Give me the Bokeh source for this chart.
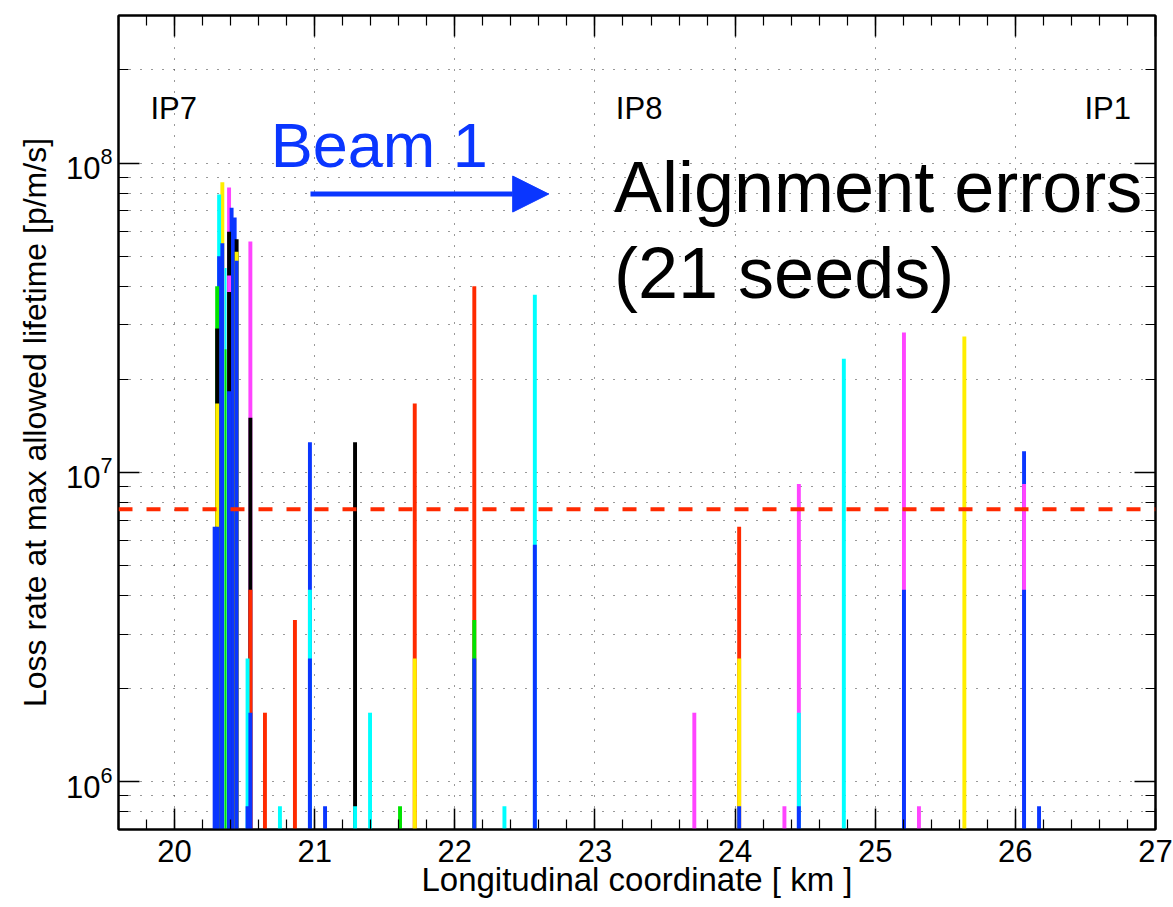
from bokeh.plotting import figure
from bokeh.models import (Range1d, Span, Label, Arrow, NormalHead, ColumnDataSource,
                          FixedTicker, SingleIntervalTicker, LinearAxis, LogAxis,
                          CustomLabelingPolicy)
from bokeh.embed import file_html
from bokeh.resources import INLINE

# ---- data ----
BLUE = "#0a36ff"; RED = "#ff2a00"; GREEN = "#00e400"; CYAN = "#00ffff"
MAGENTA = "#ff44ff"; YELLOW = "#ffee00"; BLACK = "#000000"

bar_km = [20.286, 20.304, 20.304, 20.304, 20.304, 20.318, 20.318, 20.341, 20.341,
          20.364, 20.364, 20.389, 20.389, 20.389, 20.389, 20.389, 20.407, 20.429,
          20.443, 20.443, 20.443, 20.521, 20.521, 20.541, 20.541, 20.541, 20.541,
          20.645, 20.752, 20.859, 20.966, 20.966, 20.966, 21.074, 21.288, 21.288,
          21.395, 21.609, 21.714, 21.714, 22.139, 22.139, 22.139, 22.354, 22.571,
          22.571, 23.709, 24.029, 24.029, 24.029, 24.352, 24.455, 24.455, 24.455,
          24.776, 25.205, 25.205, 25.312, 25.636, 26.062, 26.062, 26.062, 26.169]
bar_loss = [6.67e6, 4.0e7, 2.92e7, 1.67e7, 6.67e6, 7.92e7, 5.0e7, 8.67e7, 5.5e7,
            4.58e7, 2.5e7, 8.33e7, 6.0e7, 4.33e7, 3.83e7, 1.83e7, 7.17e7, 6.67e7,
            5.67e7, 5.17e7, 4.83e7, 2.5e6, 8.33e5, 5.58e7, 1.5e7, 4.17e6, 1.67e6,
            1.67e6, 8.33e5, 3.33e6, 1.25e7, 4.17e6, 2.5e6, 8.33e5, 1.25e7, 8.33e5,
            1.67e6, 8.33e5, 1.67e7, 2.5e6, 4.0e7, 3.33e6, 2.5e6, 8.33e5, 3.75e7,
            5.83e6, 1.67e6, 6.67e6, 2.5e6, 8.33e5, 8.33e5, 9.17e6, 1.67e6, 8.33e5,
            2.33e7, 2.83e7, 4.17e6, 8.33e5, 2.75e7, 1.17e7, 9.17e6, 4.17e6, 8.33e5]
bar_color = [BLUE, GREEN, BLACK, YELLOW, BLUE, CYAN, BLUE, YELLOW, BLUE,
             CYAN, GREEN, MAGENTA, BLACK, MAGENTA, BLACK, BLUE, BLUE, BLUE,
             BLACK, YELLOW, BLUE, CYAN, BLUE, MAGENTA, BLACK, RED, BLUE,
             RED, CYAN, RED, BLUE, CYAN, BLUE, BLUE, BLACK, CYAN,
             CYAN, GREEN, RED, YELLOW, RED, GREEN, BLUE, CYAN, CYAN,
             BLUE, MAGENTA, RED, YELLOW, BLUE, MAGENTA, MAGENTA, CYAN, BLUE,
             CYAN, MAGENTA, BLUE, MAGENTA, YELLOW, BLUE, MAGENTA, BLUE, BLUE]

threshold = 7.6e6
ip_names = ["IP7", "IP8", "IP1"]
ip_km = [19.994, 23.315, 26.659]
x_ticks = [20, 21, 22, 23, 24, 25, 26, 27]
y_ticks = [1e6, 1e7, 1e8]

X_LO, X_HI = 19.6, 27.0
Y_LO, Y_HI = 7e5, 3e8

BAR_W = 0.028
THIN_AT = 20.364   # the seed squeezed between two blue columns shows as a thin line

# draw tallest first so shorter seeds overlay them
order = sorted(range(len(bar_km)), key=lambda i: -bar_loss[i])
src = ColumnDataSource(dict(
    x=[bar_km[i] for i in order],
    top=[bar_loss[i] for i in order],
    color=[bar_color[i] for i in order],
    w=[BAR_W / 2 if bar_km[i] == THIN_AT else BAR_W for i in order],
))

FONT = "Liberation Sans"

p = figure(width=1173, height=907, x_range=Range1d(X_LO, X_HI),
           y_range=Range1d(Y_LO, Y_HI), y_axis_type="log",
           output_backend="svg", toolbar_location=None,
           min_border_left=118, min_border_right=18, min_border_top=15,
           min_border_bottom=78)
p.background_fill_color = "white"
p.border_fill_color = "white"
p.outline_line_color = "black"
p.outline_line_width = 2

p.vbar(x="x", top="top", bottom=Y_LO, width="w", fill_color="color",
       line_color=None, source=src)

p.add_layout(Span(location=threshold, dimension="width", line_color=RED,
                  line_dash="14 14", line_width=4))

minor_y = [m * 10.0 ** e for e in range(5, 9) for m in range(2, 10)]
xt = SingleIntervalTicker(interval=1, num_minor_ticks=5)
yt = FixedTicker(ticks=y_ticks, minor_ticks=minor_y)

no_labels = CustomLabelingPolicy(code="""
    for (const i of Array.from(indices)) { indices.unset(i) }
    return indices
""")

def style_axis(ax, labels=True):
    ax.axis_line_width = 2
    ax.axis_line_color = "black"
    ax.major_tick_in = 21
    ax.major_tick_out = 0
    ax.minor_tick_in = 10
    ax.minor_tick_out = 0
    ax.major_tick_line_width = 1.5
    ax.minor_tick_line_width = 1.2
    ax.major_tick_line_color = "black"
    ax.minor_tick_line_color = "black"
    ax.major_label_text_font = FONT
    ax.major_label_text_color = "black"
    if labels:
        ax.major_label_text_font_size = "31px"
    else:
        ax.major_label_text_font_size = "1px"
        ax.major_label_policy = no_labels
        ax.major_label_standoff = 0

p.xaxis.ticker = xt
p.yaxis.ticker = yt
style_axis(p.xaxis[0])
style_axis(p.yaxis[0])
p.xaxis.major_label_standoff = 10
p.yaxis.major_label_standoff = 6
p.xaxis.axis_label = "Longitudinal coordinate [ km ]"
p.yaxis.axis_label = "Loss rate at max allowed lifetime [p/m/s]"
for ax in (p.xaxis[0], p.yaxis[0]):
    ax.axis_label_text_font = FONT
    ax.axis_label_text_font_style = "normal"
    ax.axis_label_text_color = "black"
p.xaxis.axis_label_text_font_size = "33px"
p.yaxis.axis_label_text_font_size = "32px"
p.xaxis.axis_label_standoff = -4
p.yaxis.axis_label_standoff = 10

top_ax = LinearAxis(ticker=xt)
style_axis(top_ax, labels=False)
p.add_layout(top_ax, "above")
right_ax = LogAxis(ticker=yt)
style_axis(right_ax, labels=False)
p.add_layout(right_ax, "right")

p.xgrid.grid_line_color = "#333333"
p.xgrid.grid_line_dash = "1 10"
p.xgrid.grid_line_width = 1
p.ygrid.grid_line_color = "#333333"
p.ygrid.grid_line_dash = "1 10"
p.ygrid.grid_line_width = 1
p.ygrid.minor_grid_line_color = "#333333"
p.ygrid.minor_grid_line_dash = "1 10"
p.ygrid.minor_grid_line_width = 1

for name, km in zip(ip_names, ip_km):
    p.add_layout(Label(x=km, y=1.5e8, text=name, text_align="center",
                       text_baseline="middle", text_font=FONT,
                       text_font_size="31px", text_color="black"))

p.add_layout(Label(x=20.686, y=1.147e8, text="Beam 1", text_align="left",
                   text_baseline="middle", text_font=FONT,
                   text_font_size="63px", text_color=BLUE))
p.add_layout(Arrow(end=NormalHead(size=36, fill_color=BLUE, line_color=BLUE),
                   x_start=20.97, y_start=7.94e7, x_end=22.67, y_end=7.94e7,
                   line_color=BLUE, line_width=5))
p.add_layout(Label(x=23.136, y=8.37e7, text="Alignment errors", text_align="left",
                   text_baseline="middle", text_font=FONT,
                   text_font_size="72px", text_color="black"))
p.add_layout(Label(x=23.136, y=4.42e7, text="(21 seeds)", text_align="left",
                   text_baseline="middle", text_font=FONT,
                   text_font_size="72px", text_color="black"))

open("out.html", "w").write(file_html(p, INLINE))
